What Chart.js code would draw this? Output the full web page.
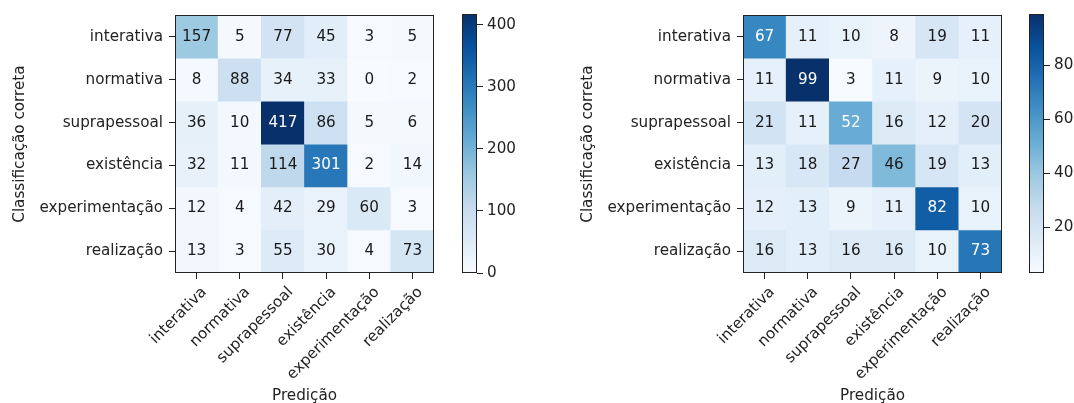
<!DOCTYPE html>
<html>
<head>
<meta charset="utf-8">
<script src="https://cdn.jsdelivr.net/npm/chart.js@4/dist/chart.umd.min.js"></script>
<style>
  body { margin: 0; background: #fff; width: 1074px; height: 403px; overflow: hidden; position: relative; }
  canvas { position: absolute; top: 0; }
</style>
</head>
<body>
<canvas id="cmLeft" width="445" height="403" style="left:0px"></canvas>
<canvas id="cbLeft" width="80" height="403" style="left:440px"></canvas>
<canvas id="cmRight" width="445" height="403" style="left:568px"></canvas>
<canvas id="cbRight" width="67" height="403" style="left:1007px"></canvas>
<script>
// class names (rows = correct class, columns = prediction)
const categories = ['interativa', 'normativa', 'suprapessoal', 'existência', 'experimentação', 'realização'];

// left matrix, one row per correct class
const leftInterativa     = [157, 5, 77, 45, 3, 5];
const leftNormativa      = [8, 88, 34, 33, 0, 2];
const leftSuprapessoal   = [36, 10, 417, 86, 5, 6];
const leftExistencia     = [32, 11, 114, 301, 2, 14];
const leftExperimentacao = [12, 4, 42, 29, 60, 3];
const leftRealizacao     = [13, 3, 55, 30, 4, 73];

// right matrix
const rightInterativa     = [67, 11, 10, 8, 19, 11];
const rightNormativa      = [11, 99, 3, 11, 9, 10];
const rightSuprapessoal   = [21, 11, 52, 16, 12, 20];
const rightExistencia     = [13, 18, 27, 46, 19, 13];
const rightExperimentacao = [12, 13, 9, 11, 82, 10];
const rightRealizacao     = [16, 13, 16, 16, 10, 73];

// colorbar tick labels
const leftBarTicks = [0, 100, 200, 300, 400];
const rightBarTicks = [20, 40, 60, 80];

const leftMatrix = [leftInterativa, leftNormativa, leftSuprapessoal, leftExistencia, leftExperimentacao, leftRealizacao];
const rightMatrix = [rightInterativa, rightNormativa, rightSuprapessoal, rightExistencia, rightExperimentacao, rightRealizacao];

// matplotlib "Blues"
const blues = ['#f7fbff', '#deebf7', '#c6dbef', '#9ecae1', '#6baed6', '#4292c6', '#2171b5', '#08519c', '#08306b'];

function hexToRgb(h) {
  return [parseInt(h.slice(1, 3), 16), parseInt(h.slice(3, 5), 16), parseInt(h.slice(5, 7), 16)];
}

function bluesColor(t) {
  t = Math.max(0, Math.min(1, t));
  const p = t * (blues.length - 1);
  const i = Math.min(Math.floor(p), blues.length - 2);
  const f = p - i;
  const a = hexToRgb(blues[i]), b = hexToRgb(blues[i + 1]);
  const c = a.map((v, k) => Math.round(v + (b[k] - v) * f));
  return 'rgb(' + c.join(',') + ')';
}

Chart.defaults.font.family = "'DejaVu Sans', sans-serif";
Chart.defaults.font.size = 15.2;
Chart.defaults.color = '#222';

const frame = {
  id: 'frame',
  afterDraw(chart) {
    const a = chart.chartArea, ctx = chart.ctx;
    ctx.save();
    ctx.strokeStyle = '#222';
    ctx.lineWidth = 1;
    ctx.strokeRect(Math.round(a.left) + 0.5, Math.round(a.top) + 0.5,
      Math.round(a.right - a.left) - 1, Math.round(a.bottom - a.top) - 1);
    ctx.restore();
  }
};

function drawMatrix(id, matrix) {
  const flat = matrix.flat();
  const vmin = Math.min(...flat), vmax = Math.max(...flat);
  const thresh = vmax / 2;

  const datasets = matrix.map((row, r) => ({
    label: categories[r],
    data: row.map(() => [r - 0.5, r + 0.5]),
    backgroundColor: row.map(v => bluesColor((v - vmin) / (vmax - vmin))),
    borderWidth: 0,
    barPercentage: 1,
    categoryPercentage: 1,
    grouped: false
  }));

  const cellText = {
    id: 'cellText',
    afterDatasetsDraw(chart) {
      const ctx = chart.ctx;
      ctx.save();
      ctx.font = "15.2px 'DejaVu Sans', sans-serif";
      ctx.textAlign = 'center';
      ctx.textBaseline = 'middle';
      matrix.forEach((row, r) => {
        chart.getDatasetMeta(r).data.forEach((bar, c) => {
          const v = row[c];
          ctx.fillStyle = v > thresh ? '#fff' : '#1a1a1a';
          ctx.fillText(String(v), bar.x, (bar.y + bar.base) / 2);
        });
      });
      ctx.restore();
    }
  };

  new Chart(document.getElementById(id), {
    type: 'bar',
    data: { labels: categories, datasets: datasets },
    options: {
      responsive: false,
      animation: false,
      devicePixelRatio: 1,
      layout: { padding: { left: 0, top: 14, right: 11, bottom: 0 } },
      plugins: { legend: { display: false }, tooltip: { enabled: false } },
      scales: {
        x: {
          offset: true,
          grid: { offset: false, drawOnChartArea: false, tickLength: 6, color: '#222' },
          border: { display: false },
          // transparent backdrop keeps the top-right corner of each rotated label on its tick
          ticks: {
            autoSkip: false, minRotation: 45, maxRotation: 45, padding: 3,
            font: { lineHeight: 1.45 },
            showLabelBackdrop: true, backdropColor: 'rgba(0,0,0,0)'
          },
          title: { display: true, text: 'Predição', padding: { top: 0, bottom: -2 } },
          afterFit(scale) { scale.height = 130; }
        },
        y: {
          type: 'linear',
          reverse: true,
          min: -0.5,
          max: 5.5,
          grid: { drawOnChartArea: false, tickLength: 6, color: '#222' },
          border: { display: false },
          ticks: { autoSkip: false, padding: 6, callback: v => categories[v] },
          afterBuildTicks(scale) { scale.ticks = categories.map((_, i) => ({ value: i })); },
          title: { display: true, text: 'Classificação correta', padding: { top: 11, bottom: 0 } },
          afterFit(scale) { scale.width = 175; }
        }
      }
    },
    plugins: [cellText, frame]
  });
}

function drawColorbar(id, matrix, tickValues, width) {
  const flat = matrix.flat();
  const vmin = Math.min(...flat), vmax = Math.max(...flat);

  const gradient = {
    id: 'gradient',
    beforeDatasetsDraw(chart) {
      const a = chart.chartArea, ctx = chart.ctx;
      const g = ctx.createLinearGradient(0, a.bottom, 0, a.top);
      blues.forEach((c, i) => g.addColorStop(i / (blues.length - 1), c));
      ctx.save();
      ctx.fillStyle = g;
      ctx.fillRect(a.left, a.top, a.right - a.left, a.bottom - a.top);
      ctx.restore();
    }
  };

  new Chart(document.getElementById(id), {
    type: 'bar',
    data: { labels: [], datasets: [] },
    options: {
      responsive: false,
      animation: false,
      devicePixelRatio: 1,
      layout: { padding: { left: 22, top: 14, right: 0, bottom: 130 } },
      plugins: { legend: { display: false }, tooltip: { enabled: false } },
      scales: {
        x: { display: false },
        y: {
          position: 'right',
          min: vmin,
          max: vmax,
          grid: { drawOnChartArea: false, tickLength: 6, color: '#222' },
          border: { display: false },
          ticks: { autoSkip: false, padding: 4 },
          afterBuildTicks(scale) { scale.ticks = tickValues.map(v => ({ value: v })); },
          afterFit(scale) { scale.width = width - 22 - 15; }
        }
      }
    },
    plugins: [gradient, frame]
  });
}

drawMatrix('cmLeft', leftMatrix);
drawColorbar('cbLeft', leftMatrix, leftBarTicks, 80);
drawMatrix('cmRight', rightMatrix);
drawColorbar('cbRight', rightMatrix, rightBarTicks, 67);
</script>
</body>
</html>
